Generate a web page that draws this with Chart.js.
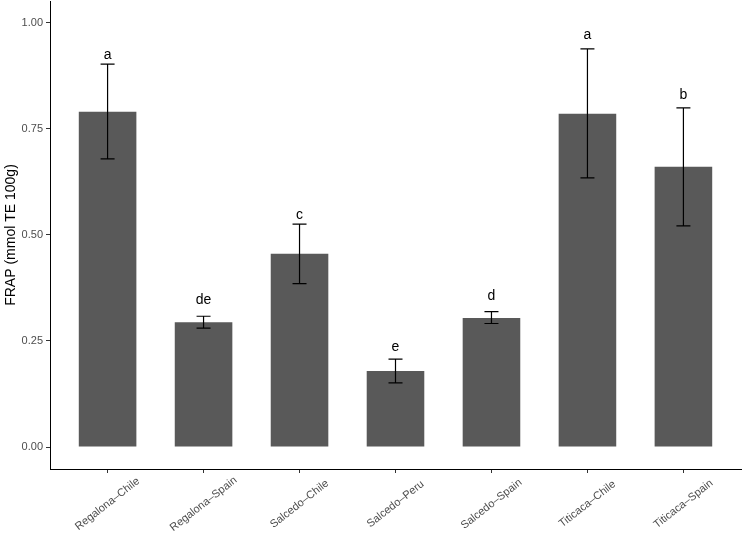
<!DOCTYPE html>
<html>
<head>
<meta charset="utf-8">
<script src="https://cdn.jsdelivr.net/npm/chart.js@4/dist/chart.umd.min.js"></script>
<style>
  html, body { margin: 0; padding: 0; background: #fff; }
  canvas { display: block; }
</style>
</head>
<body>
<canvas id="frapChart" width="743" height="536"></canvas>
<script>
// FRAP by variety-origin
const categories = ['Regalona\u2013Chile', 'Regalona\u2013Spain', 'Salcedo\u2013Chile', 'Salcedo\u2013Peru', 'Salcedo\u2013Spain', 'Titicaca\u2013Chile', 'Titicaca\u2013Spain'];
const means  = [0.790, 0.294, 0.455, 0.179, 0.304, 0.785, 0.660];
const upper  = [0.902, 0.308, 0.525, 0.207, 0.319, 0.938, 0.799];
const lower  = [0.679, 0.280, 0.385, 0.151, 0.291, 0.634, 0.521];
const letters = ['a', 'de', 'c', 'e', 'd', 'a', 'b'];
const letterY = [0.922, 0.345, 0.546, 0.235, 0.356, 0.970, 0.828];
const yTicks = [0, 0.25, 0.5, 0.75, 1.0];

const FONT = '"Liberation Sans", Arial, Helvetica, sans-serif';

// error bars + significance letters
const errorBars = {
  id: 'errorBars',
  afterDatasetsDraw(chart) {
    const {ctx, scales: {x, y}} = chart;
    ctx.save();
    ctx.strokeStyle = '#000';
    ctx.lineWidth = 1.2;
    means.forEach((m, i) => {
      const px = x.getPixelForValue(i);
      const yt = y.getPixelForValue(upper[i]);
      const yb = y.getPixelForValue(lower[i]);
      ctx.beginPath();
      ctx.moveTo(px, yt); ctx.lineTo(px, yb);
      ctx.moveTo(px - 7, yt); ctx.lineTo(px + 7, yt);
      ctx.moveTo(px - 7, yb); ctx.lineTo(px + 7, yb);
      ctx.stroke();
    });
    ctx.fillStyle = '#000';
    ctx.font = '14px ' + FONT;
    ctx.textAlign = 'center';
    ctx.textBaseline = 'middle';
    letters.forEach((l, i) => {
      ctx.fillText(l, x.getPixelForValue(i), y.getPixelForValue(letterY[i]));
    });
    ctx.restore();
  }
};

// rotated category labels, centred under the ticks like ggplot
const xLabels = {
  id: 'xLabels',
  afterDraw(chart) {
    const {ctx, scales: {x}} = chart;
    ctx.save();
    ctx.fillStyle = '#4D4D4D';
    ctx.font = '11px ' + FONT;
    ctx.textAlign = 'center';
    ctx.textBaseline = 'middle';
    categories.forEach((c, i) => {
      ctx.save();
      ctx.translate(x.getPixelForValue(i), x.top + 35);
      ctx.rotate(-38 * Math.PI / 180);
      ctx.fillText(c, 0, 0);
      ctx.restore();
    });
    ctx.restore();
  }
};

new Chart(document.getElementById('frapChart'), {
  type: 'bar',
  data: {
    datasets: [{
      data: means.map((v, i) => ({x: i, y: v})),
      backgroundColor: '#595959',
      borderWidth: 0,
      barPercentage: 0.6,
      categoryPercentage: 1
    }]
  },
  options: {
    responsive: false,
    animation: false,
    layout: { padding: { left: 0, right: 2, top: 1, bottom: 0 } },
    plugins: { legend: { display: false }, tooltip: { enabled: false } },
    scales: {
      x: {
        type: 'linear',
        min: -0.6, max: 6.6,
        offset: false,
        afterBuildTicks: s => { s.ticks = categories.map((_, i) => ({value: i})); },
        afterFit: s => { s.height = 67; s.paddingLeft = 0; s.paddingRight = 0; },
        ticks: { display: false },
        grid: { offset: false, drawOnChartArea: false, drawTicks: true, tickLength: 4, color: '#333', lineWidth: 1 },
        border: { display: true, color: '#000', width: 1 }
      },
      y: {
        min: -0.0518, max: 1.0507,
        afterBuildTicks: s => { s.ticks = yTicks.map(v => ({value: v})); },
        afterFit: s => { s.width = 50; s.paddingTop = 0; s.paddingBottom = 0; },
        ticks: {
          padding: 3,
          color: '#4D4D4D',
          font: { family: FONT, size: 11 },
          callback: v => v.toFixed(2)
        },
        grid: { drawOnChartArea: false, drawTicks: true, tickLength: 4, color: '#333', lineWidth: 1 },
        border: { display: true, color: '#000', width: 1 },
        title: {
          display: true,
          text: 'FRAP (mmol TE 100g)',
          color: '#000',
          font: { family: FONT, size: 14 },
          padding: { top: 3, bottom: 0 }
        }
      }
    }
  },
  plugins: [errorBars, xLabels]
});
</script>
</body>
</html>
